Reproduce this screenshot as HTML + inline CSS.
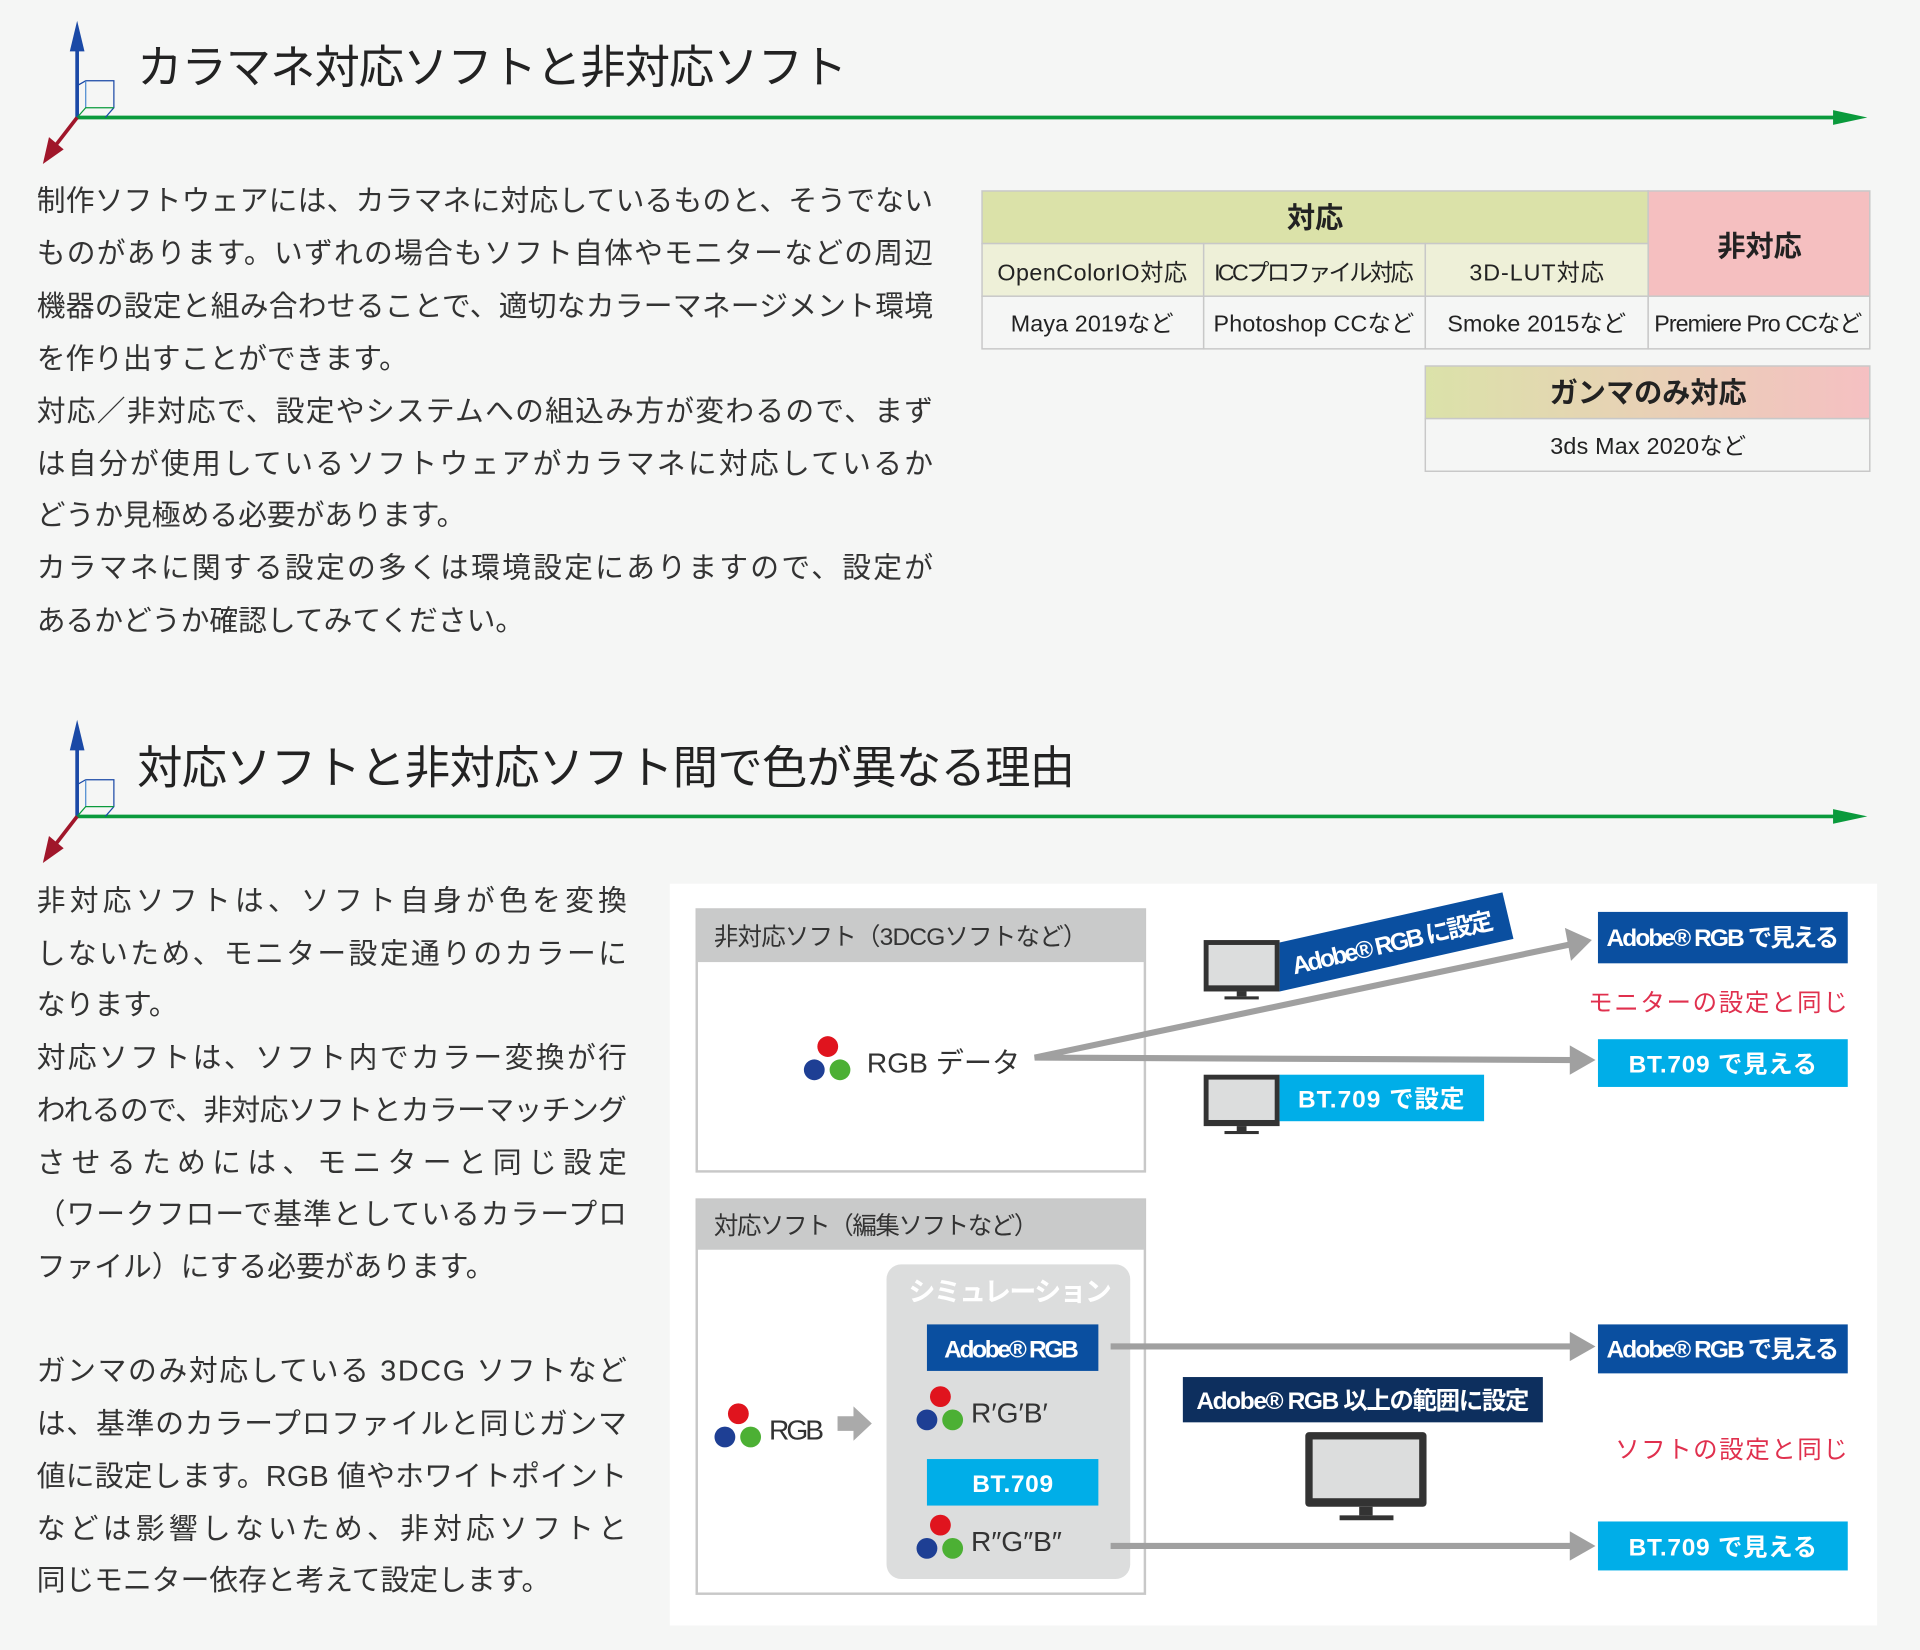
<!DOCTYPE html>
<html><head><meta charset="utf-8"><style>
html,body{margin:0;padding:0;background:#f5f6f5;}
svg{display:block;}
text{font-family:"Liberation Sans","Noto Sans CJK JP",sans-serif;}
.b{font-weight:bold;}
</style></head><body>
<svg width="1920" height="1650" viewBox="0 0 1568 1348" preserveAspectRatio="none" xmlns="http://www.w3.org/2000/svg">
<defs>
<linearGradient id="gg" x1="0" x2="1"><stop offset="0" stop-color="#dbe2a9"/><stop offset="1" stop-color="#f5c0c2"/></linearGradient>
<g id="mon"><rect x="0" y="0" width="62" height="42" fill="#333"/><rect x="4" y="4" width="54" height="33" fill="#dcdddd"/><rect x="27" y="42" width="8" height="4" fill="#333"/><rect x="17" y="46" width="28" height="2.5" fill="#333"/></g>
<g id="dots"><circle cx="11" cy="0" r="8.5" fill="#e0141e"/><circle cx="0" cy="19" r="8.5" fill="#1e3f94"/><circle cx="21" cy="19" r="8.5" fill="#4cb034"/></g>
<g id="axis">
<line x1="62" y1="96" x2="1505" y2="96" stroke="#0a9a3c" stroke-width="3"/>
<polygon points="1497,90 1525,96 1497,102" fill="#0a9a3c"/>
<line x1="63" y1="96" x2="63" y2="38" stroke="#1a49a6" stroke-width="3"/>
<polygon points="57,42 63,17 69,42" fill="#1a49a6"/>
<line x1="63" y1="96" x2="46" y2="118" stroke="#a0162a" stroke-width="3"/>
<polygon points="35,134 40,112 52,122" fill="#a0162a"/>
<polyline points="63,70 70,66 93,66 93,88 86,96" fill="none" stroke="#1a49a6" stroke-width="1"/>
<line x1="70" y1="66" x2="70" y2="88" stroke="#4a8ad0" stroke-width="1"/>
<polyline points="63,96 70,88 93,88" fill="none" stroke="#0a9a3c" stroke-width="1"/>
</g>
</defs>
<rect width="1568" height="1348" fill="#f5f6f5"/>
<use href="#axis"/>
<text x="112" y="68" font-size="37" fill="#222" textLength="580">カラマネ対応ソフトと非対応ソフト</text>
<g font-size="23.5" fill="#333">
<text x="30" y="172" textLength="732">制作ソフトウェアには、カラマネに対応しているものと、そうでない</text>
<text x="30" y="215" textLength="732">ものがあります。いずれの場合もソフト自体やモニターなどの周辺</text>
<text x="30" y="258" textLength="732">機器の設定と組み合わせることで、適切なカラーマネージメント環境</text>
<text x="30" y="301">を作り出すことができます。</text>
<text x="30" y="344" textLength="732">対応／非対応で、設定やシステムへの組込み方が変わるので、まず</text>
<text x="30" y="387" textLength="732">は自分が使用しているソフトウェアがカラマネに対応しているか</text>
<text x="30" y="429">どうか見極める必要があります。</text>
<text x="30" y="472" textLength="732">カラマネに関する設定の多くは環境設定にありますので、設定が</text>
<text x="30" y="515">あるかどうか確認してみてください。</text>
</g>
<g stroke="#c8c8c8" stroke-width="1.2">
<rect x="802" y="156" width="544" height="43" fill="#dbe2a9"/>
<rect x="1346" y="156" width="181" height="86" fill="#f5bfc0"/>
<rect x="802" y="199" width="181" height="43" fill="#eef0d8"/>
<rect x="983" y="199" width="181" height="43" fill="#eef0d8"/>
<rect x="1164" y="199" width="182" height="43" fill="#eef0d8"/>
<rect x="802" y="242" width="181" height="43" fill="#f5f6f5"/>
<rect x="983" y="242" width="181" height="43" fill="#f5f6f5"/>
<rect x="1164" y="242" width="182" height="43" fill="#f5f6f5"/>
<rect x="1346" y="242" width="181" height="43" fill="#f5f6f5"/>
<rect x="1164" y="299" width="363" height="43" fill="url(#gg)"/>
<rect x="1164" y="342" width="363" height="43" fill="#f5f6f5"/>
</g>
<g fill="#222" text-anchor="middle">
<text x="1074" y="186" font-size="23" class="b">対応</text>
<text x="1437" y="209" font-size="23" class="b">非対応</text>
<text x="1346" y="329" font-size="23" class="b">ガンマのみ対応</text>
<g font-size="19">
<text x="892" y="229" textLength="155">OpenColorIO対応</text>
<text x="1073" y="229" textLength="163">ICCプロファイル対応</text>
<text x="1255" y="229" textLength="110">3D-LUT対応</text>
<text x="892" y="271" textLength="133">Maya 2019など</text>
<text x="1073" y="271" textLength="164">Photoshop CCなど</text>
<text x="1255" y="271" textLength="146">Smoke 2015など</text>
<text x="1436" y="271" textLength="170">Premiere Pro CCなど</text>
<text x="1346" y="371" textLength="160">3ds Max 2020など</text>
</g></g>
<use href="#axis" y="571"/>
<text x="112" y="640" font-size="37" fill="#222" textLength="766">対応ソフトと非対応ソフト間で色が異なる理由</text>
<g font-size="23.5" fill="#333">
<text x="30" y="744" textLength="482">非対応ソフトは、ソフト自身が色を変換</text>
<text x="30" y="787" textLength="482">しないため、モニター設定通りのカラーに</text>
<text x="30" y="829">なります。</text>
<text x="30" y="872" textLength="482">対応ソフトは、ソフト内でカラー変換が行</text>
<text x="30" y="915" textLength="482">われるので、非対応ソフトとカラーマッチング</text>
<text x="30" y="958" textLength="482">させるためには、モニターと同じ設定</text>
<text x="30" y="1000" textLength="482">（ワークフローで基準としているカラープロ</text>
<text x="30" y="1043">ファイル）にする必要があります。</text>
<text x="30" y="1128" textLength="482">ガンマのみ対応している 3DCG ソフトなど</text>
<text x="30" y="1171" textLength="482">は、基準のカラープロファイルと同じガンマ</text>
<text x="30" y="1214" textLength="482">値に設定します。RGB 値やホワイトポイント</text>
<text x="30" y="1257" textLength="482">などは影響しないため、非対応ソフトと</text>
<text x="30" y="1299">同じモニター依存と考えて設定します。</text>
</g>
<rect x="547" y="722" width="986" height="606" fill="#ffffff"/>
<rect x="569" y="743" width="366" height="214" fill="#fff" stroke="#c8c8c8" stroke-width="2"/>
<rect x="569" y="743" width="366" height="43" fill="#c9caca"/>
<text x="583" y="772" font-size="20" fill="#333" textLength="305">非対応ソフト（3DCGソフトなど）</text>
<use href="#dots" x="665" y="855"/>
<text x="708" y="876" font-size="23" fill="#333">RGB データ</text>
<g stroke="#a0a0a0" stroke-width="5" fill="none"><polyline points="1285,771 845,864 1285,866"/></g>
<polygon points="1278,758 1300,768 1283,785" fill="#a0a0a0"/>
<polygon points="1282,854 1303,866 1282,878" fill="#a0a0a0"/>
<use href="#mon" x="983" y="768"/>
<polygon points="1045,770 1227,729 1236,767 1045,810" fill="#0a4fa0"/>
<text transform="translate(1057,796) rotate(-13)" font-size="20" fill="#fff" class="b" textLength="168">Adobe® RGB に設定</text>
<use href="#mon" x="983" y="878"/>
<rect x="1045" y="878" width="167" height="38" fill="#00aee8"/>
<text x="1128" y="905" font-size="20" fill="#fff" class="b" text-anchor="middle" textLength="136">BT.709 で設定</text>
<rect x="1305" y="745" width="204" height="42" fill="#0a4fa0"/>
<text x="1407" y="773" font-size="20" fill="#fff" class="b" text-anchor="middle" textLength="190">Adobe® RGB で見える</text>
<text x="1509" y="826" font-size="20" fill="#e0304e" text-anchor="end" textLength="212">モニターの設定と同じ</text>
<rect x="1305" y="849" width="204" height="39" fill="#00aee8"/>
<text x="1407" y="876" font-size="20" fill="#fff" class="b" text-anchor="middle" textLength="154">BT.709 で見える</text>
<rect x="569" y="980" width="366" height="322" fill="#fff" stroke="#c8c8c8" stroke-width="2"/>
<rect x="569" y="980" width="366" height="41" fill="#c9caca"/>
<text x="583" y="1008" font-size="20" fill="#333" textLength="265">対応ソフト（編集ソフトなど）</text>
<rect x="724" y="1033" width="199" height="257" rx="12" fill="#dcdddd"/>
<text x="825" y="1063" font-size="22" fill="#fff" class="b" text-anchor="middle" textLength="166">シミュレーション</text>
<rect x="757" y="1082" width="140" height="38" fill="#0a4fa0"/>
<text x="826" y="1109" font-size="20" fill="#fff" class="b" text-anchor="middle" textLength="110">Adobe® RGB</text>
<use href="#dots" x="757" y="1141"/>
<text x="793" y="1162" font-size="23" fill="#333">R′G′B′</text>
<rect x="757" y="1192" width="140" height="38" fill="#00aee8"/>
<text x="827" y="1219" font-size="20" fill="#fff" class="b" text-anchor="middle" textLength="66">BT.709</text>
<use href="#dots" x="757" y="1246"/>
<text x="793" y="1267" font-size="23" fill="#333">R″G″B″</text>
<use href="#dots" x="592" y="1155"/>
<text x="628" y="1176" font-size="23" fill="#333" textLength="45">RGB</text>
<polygon points="684,1157 697,1157 697,1149 712,1163 697,1177 697,1169 684,1169" fill="#aaa"/>
<g stroke="#a0a0a0" stroke-width="5"><line x1="907" y1="1100" x2="1285" y2="1100"/><line x1="907" y1="1263" x2="1285" y2="1263"/></g>
<polygon points="1282,1088 1303,1100 1282,1112" fill="#a0a0a0"/>
<polygon points="1282,1251 1303,1263 1282,1275" fill="#a0a0a0"/>
<rect x="966" y="1125" width="294" height="37" fill="#0d2f5e"/>
<text x="1113" y="1151" font-size="20" fill="#fff" class="b" text-anchor="middle" textLength="272">Adobe® RGB 以上の範囲に設定</text>
<rect x="1066" y="1170" width="99" height="61" rx="3" fill="#333"/>
<rect x="1072" y="1176" width="87" height="48" fill="#dcdddd"/>
<rect x="1110" y="1231" width="11" height="7" fill="#333"/>
<rect x="1094" y="1238" width="44" height="4" fill="#333"/>
<rect x="1305" y="1082" width="204" height="40" fill="#0a4fa0"/>
<text x="1407" y="1109" font-size="20" fill="#fff" class="b" text-anchor="middle" textLength="190">Adobe® RGB で見える</text>
<text x="1509" y="1191" font-size="20" fill="#e0304e" text-anchor="end" textLength="190">ソフトの設定と同じ</text>
<rect x="1305" y="1243" width="204" height="40" fill="#00aee8"/>
<text x="1407" y="1271" font-size="20" fill="#fff" class="b" text-anchor="middle" textLength="154">BT.709 で見える</text>
</svg>
</body></html>
